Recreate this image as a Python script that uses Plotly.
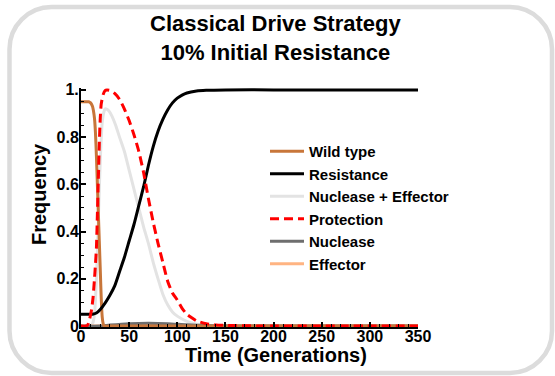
import plotly.graph_objects as go

# ---------------- data ----------------
wild_t = [0, 5, 8, 10, 12, 13, 14, 15, 16, 17, 18, 19, 20, 21, 22, 23, 24, 30, 100, 350]
wild_v = [0.95, 0.95, 0.95, 0.945, 0.93, 0.91, 0.88, 0.82, 0.72, 0.60, 0.48, 0.36, 0.24, 0.12, 0.04, 0.01, 0.0, 0.0, 0.0, 0.0]

res_t = [0, 5, 10, 13, 16, 20, 25, 30, 35, 40, 45, 50, 55, 60, 65, 70, 75, 80, 85, 90, 95, 100, 105, 110, 120, 130, 150, 200, 350]
res_v = [0.05, 0.05, 0.05, 0.051, 0.055, 0.07, 0.097, 0.13, 0.17, 0.23, 0.29, 0.36, 0.43, 0.51, 0.59, 0.68, 0.76, 0.825, 0.875, 0.915, 0.945, 0.965, 0.978, 0.987, 0.995, 0.998, 1.0, 1.0, 1.0]

ne_t = [0, 10, 12, 14, 16, 18, 20, 22, 24, 25, 28, 32, 36, 40, 45, 50, 55, 60, 65, 70, 75, 80, 85, 90, 95, 100, 110, 120, 130, 150, 200, 350]
ne_v = [0.0, 0.0, 0.01, 0.05, 0.2, 0.45, 0.7, 0.86, 0.91, 0.92, 0.915, 0.89, 0.85, 0.8, 0.74, 0.66, 0.58, 0.5, 0.42, 0.35, 0.27, 0.2, 0.135, 0.09, 0.06, 0.042, 0.02, 0.008, 0.003, 0.0, 0.0, 0.0]

prot_t = [0, 5, 7, 9, 11, 12.5, 14, 15, 16, 17, 18, 19, 20, 21, 23, 25, 27, 30, 35, 40, 45, 50, 55, 60, 65, 70, 75, 80, 85, 90, 95, 100, 105, 110, 115, 120, 130, 140, 160, 200, 350]
prot_v = [0.0, 0.0, 0.005, 0.03, 0.07, 0.12, 0.2, 0.26, 0.33, 0.47, 0.62, 0.77, 0.88, 0.94, 0.98, 0.997, 1.0, 0.998, 0.985, 0.96, 0.92, 0.87, 0.81, 0.74, 0.65, 0.54, 0.44, 0.35, 0.27, 0.19, 0.14, 0.11, 0.075, 0.05, 0.035, 0.022, 0.01, 0.005, 0.002, 0.0, 0.0]

nuc_t = [0, 20, 30, 50, 70, 90, 110, 130, 150, 350]
nuc_v = [0.0, 0.0, 0.004, 0.01, 0.012, 0.01, 0.005, 0.002, 0.0, 0.0]

eff_t = [0, 20, 40, 80, 120, 150, 350]
eff_v = [0.0, 0.0, 0.002, 0.003, 0.001, 0.0, 0.0]

x_tick_vals = [0, 50, 100, 150, 200, 250, 300, 350]
x_tick_text = ["0", "50", "100", "150", "200", "250", "300", "350"]
y_tick_vals = [0, 0.2, 0.4, 0.6, 0.8, 1.0]
y_tick_text = ["0", "0.2", "0.4", "0.6", "0.8", "1."]

title_lines = ["Classical Drive Strategy", "10% Initial Resistance"]
x_title = "Time (Generations)"
y_title = "Frequency"

# ---------------- layout geometry (pixels) ----------------
W, H = 555, 376
PL, PR, PT, PB = 81, 418, 88, 327


def px_x(p):
    return (p - PL) / (PR - PL)


def px_y(p):
    return (PB - p) / (PB - PT)


FONT = "Liberation Sans, Arial, sans-serif"

fig = go.Figure()
# (name, times, values, line style, legend rank); drawn in list order
series = [
    ("Nuclease + Effector", ne_t, ne_v, dict(color="#e3e3e3", width=3), 3),
    ("Effector", eff_t, eff_v, dict(color="#ffb482", width=3), 6),
    ("Nuclease", nuc_t, nuc_v, dict(color="#6e6e6e", width=3), 5),
    ("Wild type", wild_t, wild_v, dict(color="#c8763a", width=3), 1),
    ("Resistance", res_t, res_v, dict(color="#000000", width=3), 2),
    ("Protection", prot_t, prot_v, dict(color="#ff0000", width=3, dash="9px,5px"), 4),
]
for name, t, v, ln, rank in series:
    fig.add_trace(go.Scatter(x=t, y=v, mode="lines", name=name, legendrank=rank,
                             line=dict(shape="spline", smoothing=0.6, **ln)))

# rounded frame
fl, ft, fr, fb, rad = 9.5, 7, 552, 373, 42
k = 0.5523 * rad


def P(x, y):
    return f"{px_x(x):.5f},{px_y(y):.5f}"


path = (
    f"M{P(fl + rad, ft)} L{P(fr - rad, ft)} "
    f"C{P(fr - rad + k, ft)} {P(fr, ft + rad - k)} {P(fr, ft + rad)} "
    f"L{P(fr, fb - rad)} "
    f"C{P(fr, fb - rad + k)} {P(fr - rad + k, fb)} {P(fr - rad, fb)} "
    f"L{P(fl + rad, fb)} "
    f"C{P(fl + rad - k, fb)} {P(fl, fb - rad + k)} {P(fl, fb - rad)} "
    f"L{P(fl, ft + rad)} "
    f"C{P(fl, ft + rad - k)} {P(fl + rad - k, ft)} {P(fl + rad, ft)} Z"
)
fig.add_shape(type="path", path=path, xref="paper", yref="paper",
              line=dict(color="#dcdcdc", width=4.5), layer="below")

fig.add_annotation(text="<br>".join(title_lines), xref="paper", yref="paper",
                   x=px_x(275), y=px_y(38), xanchor="center", yanchor="middle",
                   showarrow=False, font=dict(family=FONT, size=22, color="black", weight="bold"))
fig.add_annotation(text=x_title, xref="paper", yref="paper",
                   x=px_x(276), y=px_y(355), xanchor="center", yanchor="middle",
                   showarrow=False, font=dict(family=FONT, size=20, color="black", weight="bold"))
fig.add_annotation(text=y_title, xref="paper", yref="paper", textangle=-90,
                   x=px_x(39), y=px_y(194), xanchor="center", yanchor="middle",
                   showarrow=False, font=dict(family=FONT, size=20, color="black", weight="bold"))

tickfont = dict(family=FONT, size=16, color="black", weight="bold")
fig.update_xaxes(range=[0, 350], showgrid=False, zeroline=False, showline=True,
                 linecolor="black", linewidth=2, ticks="inside", ticklen=5, tickwidth=1.5,
                 tickcolor="black", tickvals=x_tick_vals, ticktext=x_tick_text, tickfont=tickfont,
                 ticklabelstandoff=-6,
                 minor=dict(dtick=10, ticks="inside", ticklen=3, tickcolor="black", tickwidth=1),
                 mirror=False)
fig.update_yaxes(range=[-0.004, 1.008], showgrid=False, zeroline=False, showline=True,
                 linecolor="black", linewidth=2, ticks="inside", ticklen=5, tickwidth=1.5,
                 tickcolor="black", tickvals=y_tick_vals, ticktext=y_tick_text, tickfont=tickfont,
                 ticklabelstandoff=-3,
                 minor=dict(dtick=0.05, ticks="inside", ticklen=3, tickcolor="black", tickwidth=1),
                 mirror=False)

fig.update_layout(
    width=W, height=H, autosize=False,
    margin=dict(l=PL, r=W - PR, t=PT, b=H - PB, pad=0),
    paper_bgcolor="white", plot_bgcolor="white",
    showlegend=True,
    legend=dict(x=px_x(265), y=px_y(135), xanchor="left", yanchor="top",
                bgcolor="rgba(0,0,0,0)", borderwidth=0, itemwidth=34,
                font=dict(family=FONT, size=15, color="black", weight="bold")),
)

fig.write_html("out.html", config={"displayModeBar": False},
               post_script="document.body.style.margin='0';")
